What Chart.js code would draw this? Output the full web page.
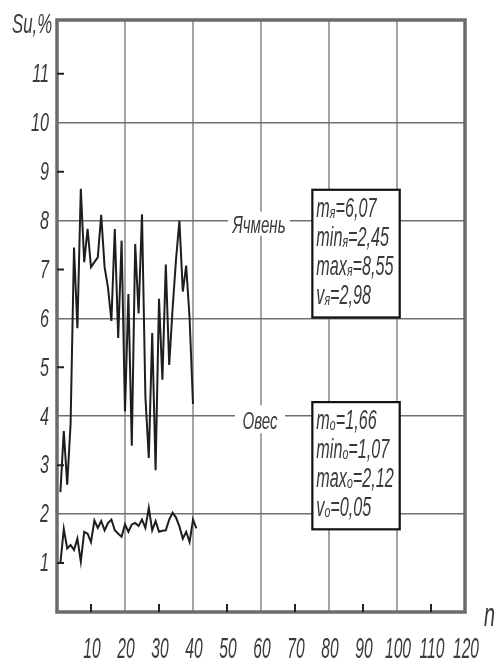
<!DOCTYPE html>
<html>
<head>
<meta charset="utf-8">
<script src="https://cdn.jsdelivr.net/npm/chart.js@4.4.1/dist/chart.umd.min.js"></script>
<style>
  html, body { margin: 0; padding: 0; background: #fff; }
  canvas { display: block; }
</style>
</head>
<body>
<canvas id="suChart" width="499" height="662"></canvas>
<script>
/******** data: Su, % by measurement number n *********/
const barleyN = [1, 2, 3, 4, 5, 6, 7, 8, 9, 10, 11, 12, 13, 14, 15, 16, 17, 18, 19, 20,
    21, 22, 23, 24, 25, 26, 27, 28, 29, 30, 31, 32, 33, 34, 35, 36, 37, 38, 39, 40];
const barleyS = [2.45, 3.7, 2.6, 3.85, 7.45, 5.8, 8.65, 7.15, 7.83, 7.05,
    7.15, 7.25, 8.12, 7.05, 6.63, 5.95, 7.83, 5.6, 7.59, 4.1,
    6.5, 3.4, 7.52, 6.1, 8.13, 4.4, 3.15, 5.7, 2.9, 6.4,
    4.75, 7.1, 5.05, 6.2, 7.2, 8.0, 6.55, 7.08, 6.0, 4.25];

const oatsN = [1, 2, 3, 4, 5, 6, 7, 8, 9, 10, 11, 12, 13, 14, 15, 16, 17, 18, 19, 20,
    21, 22, 23, 24, 25, 26, 27, 28, 29, 30, 31, 32, 33, 34, 35, 36, 37, 38, 39, 40, 41];
const oatsS = [1.0, 1.7, 1.3, 1.37, 1.27, 1.5, 1.03, 1.64, 1.6, 1.43,
    1.87, 1.72, 1.86, 1.67, 1.82, 1.89, 1.67, 1.6, 1.54, 1.79,
    1.64, 1.79, 1.82, 1.76, 1.89, 1.72, 2.13, 1.67, 1.86, 1.64,
    1.66, 1.67, 1.89, 2.03, 1.93, 1.75, 1.5, 1.64, 1.43, 1.89, 1.71];

const xTickLabels = [10, 20, 30, 40, 50, 60, 70, 80, 90, 100, 110, 120];
const yTickLabels = [1, 2, 3, 4, 5, 6, 7, 8, 9, 10, 11];

const yTitle = "Su,%";
const xTitle = "n";
const barleyName = "Ячмень";
const oatsName = "Овес";
// [main, subscript, rest]
const barleyStats = [["m", "я", "=6,07"], ["min", "я", "=2,45"], ["max", "я", "=8,55"], ["v", "я", "=2,98"]];
const oatsStats = [["m", "о", "=1,66"], ["min", "о", "=1,07"], ["max", "о", "=2,12"], ["v", "о", "=0,05"]];

/******** helpers *********/
const FONT = '"Liberation Sans", "DejaVu Sans", sans-serif';
const TEXT_COLOR = "#3a3a3a";

// italic text squeezed horizontally, like a drafting font
function narrowText(ctx, str, x, y, size, sx, align, baseline) {
    ctx.save();
    ctx.font = "italic " + size + "px " + FONT;
    ctx.fillStyle = TEXT_COLOR;
    ctx.textAlign = align || "left";
    ctx.textBaseline = baseline || "alphabetic";
    ctx.translate(x, y);
    ctx.scale(sx, 1);
    ctx.fillText(str, 0, 0);
    const w = ctx.measureText(str).width * sx;
    ctx.restore();
    return w;
}

function statBox(ctx, x0, y0, x1, y1, rows) {
    ctx.save();
    ctx.fillStyle = "#fff";
    ctx.fillRect(x0, y0, x1 - x0, y1 - y0);
    ctx.strokeStyle = "#111";
    ctx.lineWidth = 2.2;
    ctx.strokeRect(x0, y0, x1 - x0, y1 - y0);
    ctx.restore();
    rows.forEach((r, i) => {
        const base = y0 + 27 + i * 29;
        let x = x0 + 4;
        x += narrowText(ctx, r[0], x, base, 27, 0.6);
        x += narrowText(ctx, r[1], x, base + 1, 17, 0.62);
        narrowText(ctx, r[2], x, base, 27, 0.6);
    });
}

function gapLabel(ctx, text, cx, cy, halfW, halfH) {
    ctx.save();
    ctx.fillStyle = "#fff";
    ctx.fillRect(cx - halfW, cy - halfH, halfW * 2, halfH * 2);
    ctx.restore();
    narrowText(ctx, text, cx, cy + 3, 24, 0.63, "center", "middle");
}

/******** frame, ticks, labels *********/
const drawingPlugin = {
    id: "drawing",
    beforeDatasetsDraw(chart) {
        const { ctx, chartArea: a, scales } = chart;
        ctx.save();
        ctx.strokeStyle = "#6b6b6b";
        ctx.lineWidth = 3.5;
        ctx.strokeRect(a.left, a.top, a.right - a.left, a.bottom - a.top);

        // short inner tick marks at odd values
        ctx.strokeStyle = "#222";
        ctx.lineWidth = 2;
        ctx.beginPath();
        yTickLabels.filter(v => v % 2 === 1).forEach(v => {
            const y = scales.y.getPixelForValue(v);
            ctx.moveTo(a.left, y);
            ctx.lineTo(a.left + 7, y);
        });
        xTickLabels.filter(v => v % 20 === 10).forEach(v => {
            const x = scales.x.getPixelForValue(v);
            ctx.moveTo(x, a.bottom);
            ctx.lineTo(x, a.bottom - 8);
        });
        ctx.stroke();
        ctx.restore();
    },
    afterDatasetsDraw(chart) {
        const { ctx, chartArea: a, scales } = chart;
        const xs = scales.x, ys = scales.y;

        // tick labels
        yTickLabels.forEach(v => {
            narrowText(ctx, String(v), a.left - 8, ys.getPixelForValue(v) + 1, 26, 0.62, "right", "middle");
        });
        xTickLabels.forEach(v => {
            narrowText(ctx, String(v), xs.getPixelForValue(v) + 1, a.bottom + 46, 30, 0.52, "center");
        });

        // axis titles
        narrowText(ctx, yTitle, 12, 33, 28, 0.6);
        narrowText(ctx, xTitle, 484, 626, 33, 0.6);

        // series names sitting on the grid crossings
        gapLabel(ctx, barleyName, xs.getPixelForValue(60) - 2, ys.getPixelForValue(8) + 3, 31, 12);
        gapLabel(ctx, oatsName, xs.getPixelForValue(60) - 1, ys.getPixelForValue(4) + 3, 25, 14);

        // statistic boxes
        statBox(ctx, xs.getPixelForValue(75.1), ys.getPixelForValue(8.63),
            xs.getPixelForValue(100.8), ys.getPixelForValue(6.02), barleyStats);
        statBox(ctx, xs.getPixelForValue(75.1), ys.getPixelForValue(4.29),
            xs.getPixelForValue(100.8), ys.getPixelForValue(1.69), oatsStats);
    },
};

/******** chart *********/
const su_ctx = document.getElementById("suChart").getContext("2d");
const suChart = new Chart(su_ctx, {
    type: "line",
    data: {
        datasets: [
            {
                label: barleyName,
                data: barleyN.map((n, i) => ({ x: n, y: barleyS[i] })),
                borderColor: "#1e1e1e",
                borderWidth: 2,
            },
            {
                label: oatsName,
                data: oatsN.map((n, i) => ({ x: n, y: oatsS[i] })),
                borderColor: "#1e1e1e",
                borderWidth: 2,
            },
        ],
    },
    options: {
        responsive: false,
        animation: false,
        devicePixelRatio: 1,
        layout: {
            padding: { left: 57, right: 34, top: 20, bottom: 50 },
        },
        elements: {
            point: { radius: 0 },
            line: { tension: 0 },
        },
        plugins: {
            legend: { display: false },
            tooltip: { enabled: false },
        },
        scales: {
            x: {
                type: "linear",
                min: 0,
                max: 120,
                afterBuildTicks: (s) => {
                    s.ticks = xTickLabels.map(v => ({ value: v }));
                },
                ticks: { display: false },
                border: { display: false },
                grid: {
                    drawTicks: false,
                    lineWidth: 2,
                    color: (c) => (c.tick && c.tick.value % 20 === 0 && c.tick.value < 120 ? "#a4a4a4" : "rgba(0,0,0,0)"),
                },
            },
            y: {
                type: "linear",
                min: 0,
                max: 12.1,
                afterBuildTicks: (s) => {
                    s.ticks = yTickLabels.map(v => ({ value: v }));
                },
                ticks: { display: false },
                border: { display: false },
                grid: {
                    drawTicks: false,
                    lineWidth: 1.6,
                    color: (c) => (c.tick && c.tick.value % 2 === 0 ? "#707070" : "rgba(0,0,0,0)"),
                },
            },
        },
    },
    plugins: [drawingPlugin],
});
</script>
</body>
</html>
